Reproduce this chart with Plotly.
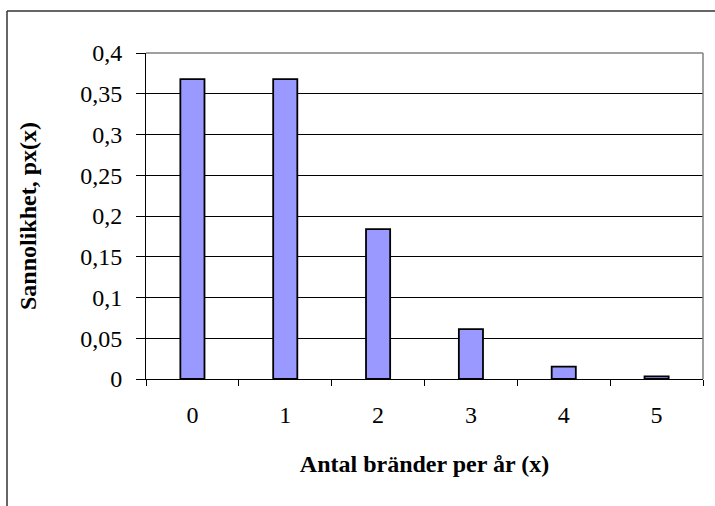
import plotly.graph_objects as go

categories = ["0", "1", "2", "3", "4", "5"]
probabilities = [0.3679, 0.3679, 0.1839, 0.0613, 0.0153, 0.0031]
y_ticks = [0, 0.05, 0.1, 0.15, 0.2, 0.25, 0.3, 0.35, 0.4]

W, H = 715, 506
L, R, T, B = 146, 12, 53, 127
pw, ph = W - L - R, H - T - B

def px_x(x):
    return (x - L) / pw

def px_y(y):
    return (H - B - y) / ph

FONT = "Liberation Serif, Times New Roman, serif"
FS = 24

fig = go.Figure(go.Bar(
    x=categories, y=probabilities,
    marker=dict(color="#9999FF", line=dict(color="black", width=1.8)),
    width=0.26,
))

fig.update_layout(
    width=W, height=H,
    margin=dict(l=L, r=R, t=T, b=B, pad=0),
    paper_bgcolor="white", plot_bgcolor="white",
    separators=", ",
    showlegend=False,
    font=dict(family=FONT, size=FS, color="black"),
    xaxis=dict(
        type="category", showline=True, linecolor="black", linewidth=1,
        ticks="outside", tickson="boundaries", ticklen=6, tickcolor="black",
        showgrid=False, tickfont=dict(size=FS), ticklabelstandoff=14,
        title=dict(text="<b>Antal bränder per år (x)</b>", font=dict(size=FS), standoff=28),
    ),
    yaxis=dict(
        range=[0, 0.4], tickvals=y_ticks, showline=True, linecolor="black", linewidth=1,
        ticks="outside", ticklen=9, tickcolor="black",
        showgrid=True, gridcolor="black", gridwidth=1, zeroline=False,
        tickfont=dict(size=FS), ticklabelstandoff=9,
        title=dict(text="<b>Sannolikhet, px(x)</b>", font=dict(size=FS), standoff=36),
    ),
    shapes=[
        dict(type="line", xref="paper", yref="paper", x0=0, x1=1, y0=1, y1=1,
             line=dict(color="#808080", width=1.5)),
        dict(type="line", xref="paper", yref="paper", x0=1, x1=1, y0=0, y1=1,
             line=dict(color="#808080", width=1.5)),
        dict(type="line", xref="paper", yref="paper", x0=px_x(7), x1=px_x(716), y0=px_y(11), y1=px_y(11),
             line=dict(color="#333333", width=1.5)),
        dict(type="line", xref="paper", yref="paper", x0=px_x(7), x1=px_x(7), y0=px_y(11), y1=px_y(507),
             line=dict(color="#333333", width=1.5)),
    ],
)

fig.write_html("out.html", config={"displayModeBar": False},
               post_script="document.body.style.margin='0';document.body.style.overflow='hidden';")
